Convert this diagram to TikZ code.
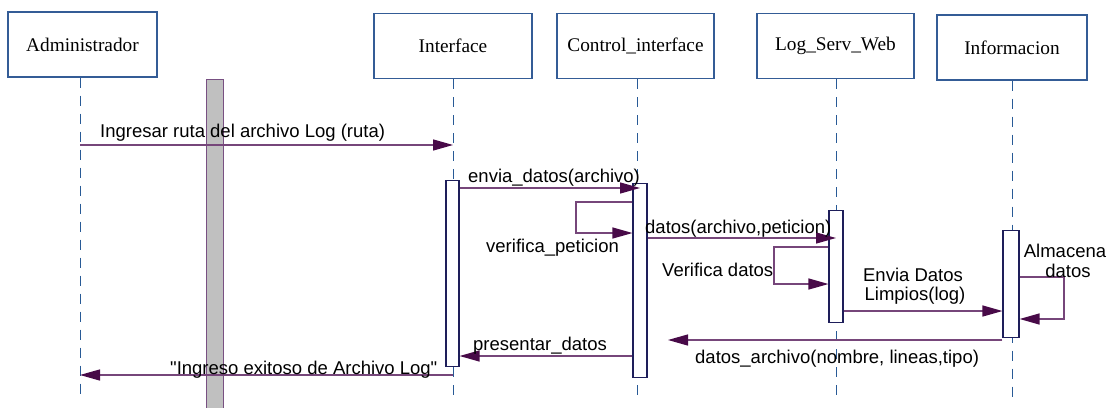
\documentclass[tikz,border=0pt]{standalone}
\usepackage{fontspec}
\setmainfont{Liberation Serif}
\newfontfamily\msgfont{Liberation Sans}
\usetikzlibrary{arrows.meta}
\definecolor{boxblue}{RGB}{52,92,150}
\definecolor{lifeblue}{RGB}{40,90,150}
\definecolor{msgline}{RGB}{118,70,122}
\definecolor{msghead}{RGB}{72,10,72}
\definecolor{actnavy}{RGB}{30,30,90}
\definecolor{barfill}{RGB}{192,192,192}
\definecolor{barborder}{RGB}{120,80,130}
\tikzset{
  objbox/.style={draw=boxblue, line width=1.2pt, fill=white, inner sep=0pt,
    minimum width=150pt, minimum height=65pt, font=\fontsize{19.3}{22}\selectfont},
  lifeline/.style={draw=lifeblue, line width=0.9pt, dash pattern=on 10pt off 8pt},
  actbox/.style={draw=actnavy, line width=1.1pt, fill=white, inner sep=0pt,
    minimum width=14pt, anchor=north},
  msg/.style={draw=msgline, line width=1.3pt,
    -{Triangle[length=20pt,width=11pt,color=msghead]}},
  msglabel/.style={font=\msgfont\fontsize{18.5}{21}\selectfont, inner sep=0pt, text=black},
}
\begin{document}
\begin{tikzpicture}[x=1pt,y=-1pt]
\useasboundingbox (0,0) rectangle (1116,407);
% gray bar
\node[draw=barborder, line width=1pt, fill=barfill, minimum width=17pt, minimum height=340pt,
  anchor=north west, inner sep=0pt] (bar) at (206,79) {};
% object boxes
\node[objbox, minimum width=149pt] (adm) at (82.5,44.5) {Administrador};
\node[objbox, minimum width=158pt] (int) at (453,46) {Interface};
\node[objbox, minimum width=157pt] (ctl) at (635.5,46) {Control\_interface};
\node[objbox, minimum width=157pt] (log) at (835.5,46) {Log\_Serv\_Web};
\node[objbox, minimum width=150pt] (inf) at (1012,47.5) {Informacion};
% lifeline ends
\coordinate (admE) at (80,397);
\coordinate (intE) at (453,397);
\coordinate (ctlE) at (637,397);
\coordinate (logE) at (836,397);
\coordinate (infE) at (1012,397);
\draw[lifeline] (adm.south -| admE) -- (admE);
\draw[lifeline] (int.south -| intE) -- (intE);
\draw[lifeline] (ctl.south -| ctlE) -- (ctlE);
\draw[lifeline] (log.south -| logE) -- (logE);
\draw[lifeline] (inf.south -| infE) -- (infE);
% activation boxes
\node[actbox, minimum width=13pt, minimum height=186pt] (aInt) at (452.5,180) {};
\node[actbox, minimum height=194pt] (aCtl) at (640,183) {};
\node[actbox, minimum height=112pt] (aLog) at (836,210) {};
\node[actbox, minimum width=16pt, minimum height=107pt] (aInf) at (1011,230) {};
% message 1
\coordinate (m1s) at (80,145);
\coordinate (m1e) at (453,145);
\draw[msg] (m1s) -- (m1e);
\node[msglabel, anchor=base west] (l1) at (100,137) {Ingresar ruta del archivo Log (ruta)};
% message 2
\draw[msg] (aInt.east |- 0,188) -- (aCtl.center |- 0,188);
\node[msglabel, anchor=base west] (l2) at (468,182) {envia\_datos(archivo)};
% self message verifica_peticion
\coordinate (v1a) at (576,202);
\coordinate (v1b) at (576,233);
\draw[msg] (aCtl.west |- v1a) -- (v1a) -- (v1b) -- (aCtl.west |- v1b);
\node[msglabel, anchor=base west] (l3) at (486,252) {verifica\_peticion};
% message datos
\draw[msg] (aCtl.east |- 0,238) -- (aLog.center |- 0,238);
\node[msglabel, anchor=base west] (l4) at (645,233) {datos(archivo,peticion)};
% self message Verifica datos
\coordinate (v2a) at (774,247);
\coordinate (v2b) at (774,284);
\draw[msg] (aLog.west |- v2a) -- (v2a) -- (v2b) -- (aLog.west |- v2b);
\node[msglabel, anchor=base west] (l5) at (662,276) {Verifica datos};
% Envia datos limpios
\draw[msg] (aLog.east |- 0,311) -- (aInf.west |- 0,311);
\node[msglabel, anchor=base] (l6a) at (913,281) {Envia Datos};
\node[msglabel, anchor=base] (l6b) at (915,300) {Limpios(log)};
% self message Almacena
\coordinate (v3a) at (1064,277);
\coordinate (v3b) at (1064,319);
\draw[msg] (aInf.east |- v3a) -- (v3a) -- (v3b) -- (aInf.east |- v3b);
\node[msglabel, anchor=base] (l7a) at (1065,257) {Almacena};
\node[msglabel, anchor=base] (l7b) at (1068,277) {datos};
% datos_archivo
\coordinate (m8e) at (668,340);
\draw[msg] (aInf.west |- m8e) -- (m8e);
\node[msglabel, anchor=base west] (l8) at (695,363) {datos\_archivo(nombre, lineas,tipo)};
% presentar_datos
\draw[msg] (aCtl.west |- 0,356) -- (aInt.east |- 0,356);
\node[msglabel, anchor=base west] (l9) at (473,350) {presentar\_datos};
% Ingreso exitoso
\draw[msg] (intE |- 0,375) -- (admE |- 0,375);
\node[msglabel, anchor=base west] (l10) at (170,374.5) {"Ingreso exitoso de Archivo Log"};
\end{tikzpicture}
\end{document}
